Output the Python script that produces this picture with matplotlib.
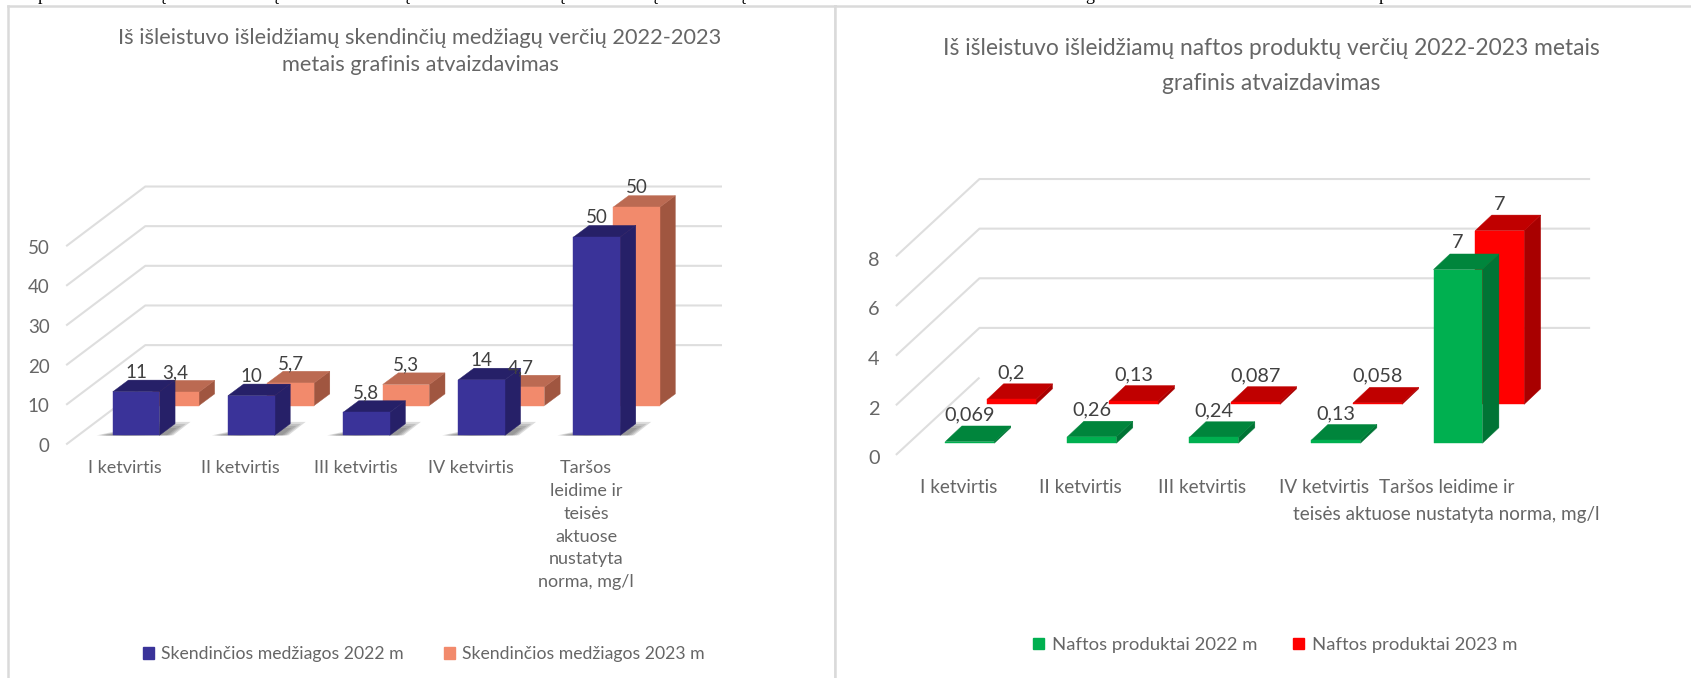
import matplotlib
matplotlib.use("Agg")
import matplotlib.pyplot as plt
from matplotlib.patches import Patch

categories_left = ["I ketvirtis", "II ketvirtis", "III ketvirtis", "IV ketvirtis",
                   "Taršos\nleidime ir\nteisės\naktuose\nnustatyta\nnorma, mg/l"]
skend_2022 = [11, 10, 5.8, 14, 50]
skend_2023 = [3.4, 5.7, 5.3, 4.7, 50]
skend_labels_2022 = ["11", "10", "5,8", "14", "50"]
skend_labels_2023 = ["3,4", "5,7", "5,3", "4,7", "50"]
skend_ticks = [0, 10, 20, 30, 40, 50]

categories_right = ["I ketvirtis", "II ketvirtis", "III ketvirtis", "IV ketvirtis",
                    "Taršos leidime ir\nteisės aktuose nustatyta norma, mg/l"]
nafta_2022 = [0.069, 0.26, 0.24, 0.13, 7]
nafta_2023 = [0.2, 0.13, 0.087, 0.058, 7]
nafta_labels_2022 = ["0,069", "0,26", "0,24", "0,13", "7"]
nafta_labels_2023 = ["0,2", "0,13", "0,087", "0,058", "7"]
nafta_ticks = [0, 2, 4, 6, 8]

W, H = 1691, 678
plt.rcParams["font.family"] = ["Lato", "DejaVu Sans"]
GREY = "#666666"
LABEL = "#404040"
BORDER = "#DADADA"

fig = plt.figure(figsize=(W / 100, H / 100), dpi=100, facecolor="white")


def make_axes(x0, x1, y0, y1, xlim, ylim, spines):
    ax = fig.add_axes([x0 / W, 1 - y1 / H, (x1 - x0) / W, (y1 - y0) / H])
    ax.set_xlim(*xlim)
    ax.set_ylim(*ylim)
    ax.set_xticks([])
    ax.set_yticks([])
    for name, s in ax.spines.items():
        s.set_visible(name in spines)
        s.set_color(BORDER)
        s.set_linewidth(1.8)
    return ax


def box(ax, i, val, x_off, base, cfg, front, top, side, z):
    w = cfg["w"]
    xl = i - w / 2 + x_off
    xr = xl + w
    dx, dy = cfg["top_dx"], cfg["top_dy"]
    yt = base + val
    ax.fill([xr, xr + dx, xr + dx, xr], [base, base + dy, yt + dy, yt], color=side, lw=0.3, zorder=z)
    ax.fill([xl, xr, xr + dx, xl + dx], [yt, yt, yt + dy, yt + dy], color=top, lw=0.3, zorder=z)
    ax.bar(xl, val, width=w, bottom=base, align="edge", color=front, edgecolor=front, linewidth=0.3, zorder=z)


def draw(ax, cats, v0, v1, lab0, lab1, ticks, cfg, c0, c1):
    for t in ticks:
        xs = [cfg["gx0"], cfg["gx0"] + cfg["back_dx"], cfg["gx1"]]
        ys = [t, t + cfg["back_dy"], t + cfg["back_dy"]]
        if t == 0:
            xs, ys = xs[:2], ys[:2]
        ax.plot(xs, ys, color="#DEDEDE", lw=1.5, zorder=1, solid_capstyle="butt")
        ax.text(cfg["tick_x"], t + cfg["tick_dy"], str(t), ha="right", va="center",
                fontsize=cfg["fs_num"], color=GREY, zorder=9)
    for i, val in enumerate(v1):
        box(ax, i, val, cfg["off"], cfg["base1"], cfg, *c1, 3)
    for i, val in enumerate(v0):
        if cfg["shadow"]:
            xr = i + cfg["w"] / 2
            b = cfg["base0"]
            for k in (1.0, 0.85, 0.7, 0.55):
                ax.fill([xr - cfg["w"] - 0.14 * k, xr, xr + 0.27 * k, xr + 0.12 * k, xr - 0.3],
                        [b, b + 3.4 * k, b + 3.4 * k, b, b - 0.15 * k],
                        color="#555555", alpha=0.2, lw=0, zorder=4)
        box(ax, i, val, 0, cfg["base0"], cfg, *c0, 5)
    for i in range(len(v0)):
        ax.text(i, cfg["base0"] + v0[i] + cfg["lab"], lab0[i], ha="center", va="center",
                fontsize=cfg["fs_num"], color=LABEL, zorder=10)
        ax.text(i + cfg["off"], cfg["base1"] + v1[i] + cfg["lab"], lab1[i], ha="center", va="center",
                fontsize=cfg["fs_num"], color=LABEL, zorder=10)
        ax.text(i - 0.094, cfg["cat_y"], cats[i], ha="center", va="top", fontsize=cfg["fs"],
                color=GREY, linespacing=cfg["cat_ls"], zorder=10)


# ---- left chart
axL = make_axes(8, 834.5, 5.5, 678, (-1.112, 6.064), (-58.9, 110.7), ("left", "top", "right"))
draw(axL, categories_left, skend_2022, skend_2023, skend_labels_2022, skend_labels_2023, skend_ticks,
     dict(w=0.405, off=0.3435, base0=2.29, base1=9.81, top_dx=0.136, top_dy=2.94,
          gx0=-0.607, gx1=5.087, back_dx=0.687, back_dy=15.05, tick_x=-0.75, tick_dy=-0.5,
          lab=4.9, cat_y=-4.0, cat_ls=1.52, fs=13, fs_num=13.5, shadow=True),
     ("#3A3399", "#262068", "#262068"), ("#F28A6C", "#BB6A52", "#A05640"))

# ---- right chart
axR = make_axes(835, 1693, 6, 678, (-1.105, 5.926), (-8.99, 18.09), ("left", "top"))
draw(axR, categories_right, nafta_2022, nafta_2023, nafta_labels_2022, nafta_labels_2023, nafta_ticks,
     dict(w=0.401, off=0.342, base0=0.47, base1=2.038, top_dx=0.135, top_dy=0.627,
          gx0=-0.606, gx1=5.083, back_dx=0.685, back_dy=3.118, tick_x=-0.74, tick_dy=-0.15,
          lab=1.07, cat_y=-0.98, cat_ls=1.72, fs=13.6, fs_num=14.3, shadow=False),
     ("#00B050", "#00853C", "#007435"), ("#FF0000", "#C00000", "#A80000"))

# ---- titles
fig.text(420 / W, 1 - 51.5 / H,
         "Iš išleistuvo išleidžiamų skendinčių medžiagų verčių 2022-2023\nmetais grafinis atvaizdavimas",
         ha="center", va="center", fontsize=15.7, color=GREY, linespacing=1.46)
fig.text(1271 / W, 1 - 66 / H,
         "Iš išleistuvo išleidžiamų naftos produktų verčių 2022-2023 metais\ngrafinis atvaizdavimas",
         ha="center", va="center", fontsize=16.4, color=GREY, linespacing=1.87)

# ---- legends
for handles, xc, yc, spacing, fs in [
    ([Patch(color="#3A3399", label="Skendinčios medžiagos 2022 m"),
      Patch(color="#F28A6C", label="Skendinčios medžiagos 2023 m")], 424, 654, 2.27, 12.7),
    ([Patch(color="#00B050", label="Naftos produktai 2022 m"),
      Patch(color="#FF0000", label="Naftos produktai 2023 m")], 1275, 645, 1.93, 13.3),
]:
    fig.legend(handles=handles, ncol=2, loc="center", bbox_to_anchor=(xc / W, 1 - yc / H),
               frameon=False, fontsize=fs, labelcolor=GREY, handlelength=0.62, handleheight=0.62,
               handletextpad=0.4, columnspacing=spacing)

# ---- cut-off line of the surrounding document at the very top
for x, ch in [(42, "p"), (161, "ų"), (274, "ų"), (405, "ų"), (560, "ų"), (653, "ų"), (741, "ų"),
              (1090, "g"), (1383, "p")]:
    fig.text(x / W, 1 - 0.5 / H, ch, ha="center", va="baseline", fontsize=13, color="black",
             family="Liberation Serif", zorder=0)

fig.savefig("out.png", dpi=100, facecolor="white")
